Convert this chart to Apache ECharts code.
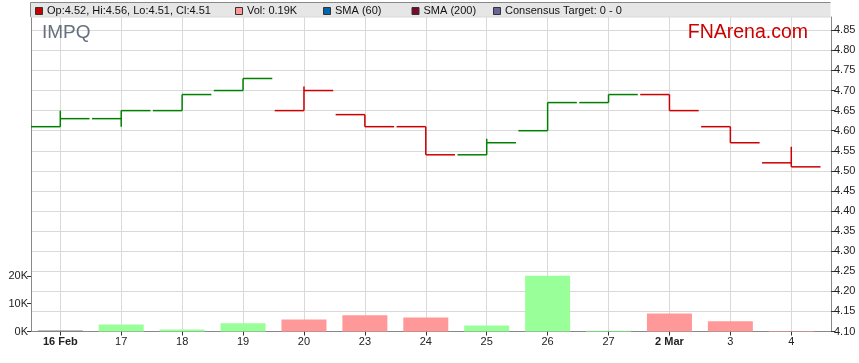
<!DOCTYPE html>
<html><head><meta charset="utf-8">
<script src="https://cdn.jsdelivr.net/npm/echarts@6/dist/echarts.min.js"></script>
<style>html,body{margin:0;padding:0;background:#fff}#c{width:859px;height:363px}</style>
</head><body><div id="c"></div>
<script>
const categories = ['16 Feb','17','18','19','20','23','24','25','26','27','2 Mar','3','4'];
const opens   = [4.61,4.63,4.65,4.70,4.65,4.64,4.61,4.54,4.60,4.67,4.69,4.61,4.52];
const highs   = [4.65,4.65,4.69,4.73,4.71,4.64,4.61,4.58,4.67,4.69,4.69,4.61,4.56];
const lows    = [4.61,4.61,4.65,4.70,4.65,4.61,4.54,4.54,4.60,4.67,4.65,4.57,4.51];
const closes  = [4.63,4.65,4.69,4.73,4.70,4.61,4.54,4.57,4.67,4.69,4.65,4.57,4.51];
const volumes = [400,2500,700,3000,4300,5800,5000,2200,20000,300,6500,3700,190];
const priceTicks = [4.10,4.15,4.20,4.25,4.30,4.35,4.40,4.45,4.50,4.55,4.60,4.65,4.70,4.75,4.80,4.85];
const volumeTicks = [0,10000,20000];
const legendItems = [
  {label:'Op:4.52, Hi:4.56, Lo:4.51, Cl:4.51', color:'#cc0000', x:35},
  {label:'Vol: 0.19K', color:'#ff9999', x:235},
  {label:'SMA (60)', color:'#0066aa', x:323},
  {label:'SMA (200)', color:'#7a0a2a', x:411.5},
  {label:'Consensus Target: 0 - 0', color:'#666699', x:493}
];

const FONT = 'Liberation Sans, Arial, sans-serif';
const UP = '#008000', DOWN = '#cc0000';
function isUp(i){ return i === 0 ? true : closes[i] >= closes[i-1]; }

const ohlcData = categories.map((c,i)=>[i, opens[i], highs[i], lows[i], closes[i]]);
const volData = categories.map((c,i)=>[i, volumes[i]]);
const idx = categories.map((c,i)=>i);

const chart = echarts.init(document.getElementById('c'), null, {renderer:'canvas'});

const legendGraphics = [];
legendGraphics.push({type:'rect', shape:{x:30.5,y:2.5,width:800,height:14.5}, style:{fill:'#e6e6e6', stroke:null}, z:100});
legendGraphics.push({type:'line', shape:{x1:30.5,y1:2.5,x2:830.5,y2:2.5}, style:{stroke:'#888', lineWidth:1}, z:101});
legendGraphics.push({type:'line', shape:{x1:30.5,y1:2.5,x2:30.5,y2:17}, style:{stroke:'#888', lineWidth:1}, z:101});
legendGraphics.push({type:'line', shape:{x1:30.5,y1:17,x2:830.5,y2:17}, style:{stroke:'#d9d9d9', lineWidth:1}, z:101});
legendItems.forEach(it=>{
  legendGraphics.push({type:'rect', shape:{x:it.x+0.5,y:7.5,width:7,height:7}, style:{fill:it.color, stroke:'#333', lineWidth:1}, z:101});
  legendGraphics.push({type:'text', x:it.x+12, y:11, style:{text:it.label, font:'11px '+FONT, fill:'#111', verticalAlign:'middle'}, z:101});
});
legendGraphics.push({type:'text', x:42, y:33, style:{text:'IMPQ', font:'19px '+FONT, fill:'#666f7d', verticalAlign:'middle'}, z:101});
legendGraphics.push({type:'text', x:808, y:33, style:{text:'FNArena.com', font:'19.5px '+FONT, fill:'#cc0000', align:'right', verticalAlign:'middle'}, z:101});

chart.setOption({
  animation:false,
  backgroundColor:'#fff',
  grid:{left:31, right:28, top:17, bottom:31.5, containLabel:false},
  xAxis:{
    type:'value', min:-0.481, max:12.652,
    axisLine:{show:true, onZero:false, lineStyle:{color:'#888', width:1}},
    axisTick:{show:true, length:4, lineStyle:{color:'#333'}, customValues: idx},
    axisLabel:{customValues: idx, margin:5, fontSize:11, fontFamily:FONT, color:'#222',
      formatter:(v)=>{ const s = categories[Math.round(v)]; return /[A-Za-z]/.test(s) ? '{b|'+s+'}' : s; },
      rich:{b:{fontWeight:'bold', fontSize:11, fontFamily:FONT, color:'#222'}}},
    splitLine:{show:true, lineStyle:{color:'#d9d9d9', width:1}}
  },
  yAxis:[
    {type:'value', position:'left', min:0, max:113000,
      axisLine:{show:true, onZero:false, lineStyle:{color:'#888'}},
      axisTick:{show:true, length:4, lineStyle:{color:'#333'}, customValues:volumeTicks},
      axisLabel:{customValues:volumeTicks, margin:3, fontSize:11, fontFamily:FONT, color:'#222',
        formatter:(v)=>Math.round(v/1000)+'K'},
      splitLine:{show:false}},
    {type:'value', position:'right', min:4.10, max:4.8831,
      axisLine:{show:true, onZero:false, lineStyle:{color:'#888'}},
      axisTick:{show:true, length:4, lineStyle:{color:'#333'}, customValues:priceTicks},
      axisLabel:{customValues:priceTicks, margin:3, fontSize:11, fontFamily:FONT, color:'#222',
        formatter:(v)=>v.toFixed(2)},
      splitLine:{show:true, lineStyle:{color:'#d9d9d9', width:1}}}
  ],
  graphic: legendGraphics,
  series:[
    {type:'bar', xAxisIndex:0, yAxisIndex:0, data:volData, barWidth:45, z:2,
      itemStyle:{color:(p)=> p.dataIndex===0 ? '#808080' : (isUp(p.dataIndex) ? '#99ff99' : '#ff9999')}},
    {type:'custom', xAxisIndex:0, yAxisIndex:1, data:ohlcData, z:3,
      encode:{x:0, y:[1,2,3,4]},
      renderItem:(params, api)=>{
        const i = params.dataIndex;
        const x = api.value(0);
        const pO = api.coord([x, api.value(1)]);
        const pH = api.coord([x, api.value(2)]);
        const pL = api.coord([x, api.value(3)]);
        const pC = api.coord([x, api.value(4)]);
        const half = api.size([0.48, 0])[0];
        const col = isUp(i) ? UP : DOWN;
        const st = {stroke:col, lineWidth:1.5};
        return {type:'group', children:[
          {type:'line', shape:{x1:pO[0]-half, y1:pO[1], x2:pO[0], y2:pO[1]}, style:st},
          {type:'line', shape:{x1:pH[0], y1:pH[1], x2:pL[0], y2:pL[1]}, style:st},
          {type:'line', shape:{x1:pC[0], y1:pC[1], x2:pC[0]+half, y2:pC[1]}, style:st}
        ]};
      }}
  ]
});
</script></body></html>
